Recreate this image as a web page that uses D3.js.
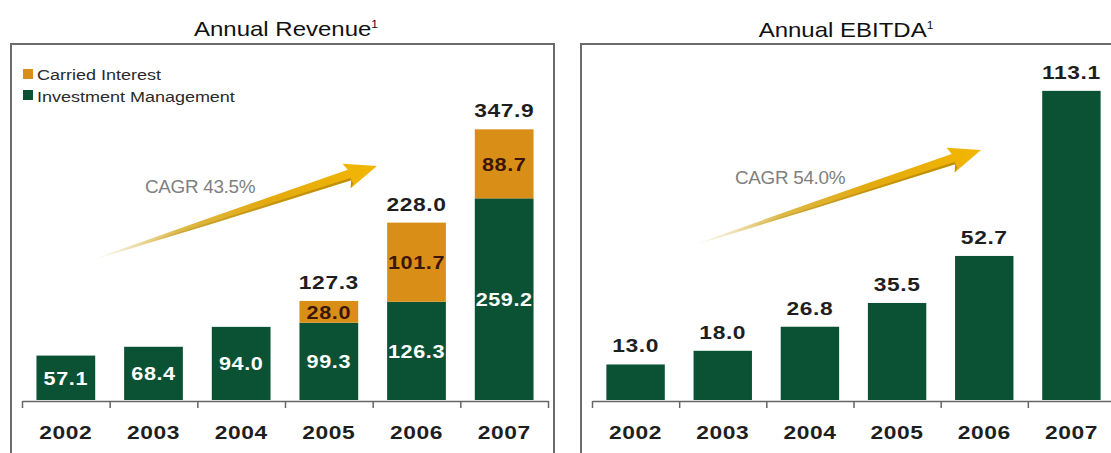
<!DOCTYPE html>
<html>
<head>
<meta charset="utf-8">
<script src="https://cdn.jsdelivr.net/npm/d3@7"></script>
<style>
  html, body { margin: 0; padding: 0; background: #fff; }
  svg { display: block; }
  text { font-family: "Liberation Sans", Arial, sans-serif; }
</style>
</head>
<body>
<svg id="chart" width="1111" height="453"></svg>
<script>
// ---- data ----
const years = ["2002", "2003", "2004", "2005", "2006", "2007"];
const investmentMgmt = [57.1, 68.4, 94.0, 99.3, 126.3, 259.2];
const carriedInterest = [0, 0, 0, 28.0, 101.7, 88.7];
const revenueTotals = [57.1, 68.4, 94.0, 127.3, 228.0, 347.9];
const ebitda = [13.0, 18.0, 26.8, 35.5, 52.7, 113.1];
const seriesNames = ["Investment Management", "Carried Interest"];
const legendOrder = ["Carried Interest", "Investment Management"];
const cagrRevenue = "CAGR 43.5%";
const cagrEbitda = "CAGR 54.0%";

// ---- style ----
const GREEN = "#0b5234";
const ORANGE = "#d98f17";
const SX = 1.2; // horizontal text stretch
const svg = d3.select("#chart");
const colorOf = d3.scaleOrdinal().domain(seriesNames).range([GREEN, ORANGE]);

function stretchedText(g, x, y, str, o = {}) {
  return g.append("text")
    .attr("transform", `translate(${x},${y}) scale(${o.sx || SX},1)`)
    .attr("text-anchor", o.anchor || "start")
    .attr("font-size", o.size || 19)
    .attr("font-weight", o.weight || "normal")
    .attr("letter-spacing", o.ls || 0)
    .attr("fill", o.fill || "#1a1a1a")
    .text(str);
}

function title(g, cx, y, main) {
  const t = g.append("text")
    .attr("transform", `translate(${cx},${y}) scale(${SX},1)`)
    .attr("text-anchor", "middle")
    .attr("font-size", 20)
    .attr("fill", "#111");
  t.append("tspan").text(main);
  t.append("tspan").attr("font-size", 10).attr("dy", -8).text("1");
}

const defs = svg.append("defs");

// gold growth arrow from tail (x0,y0) to tip (x1,y1), built along a local x axis
function growthArrow(id, x0, y0, x1, y1) {
  const L = Math.hypot(x1 - x0, y1 - y0);
  const ang = Math.atan2(y1 - y0, x1 - x0) * 180 / Math.PI;
  const grad = defs.append("linearGradient")
    .attr("id", id)
    .attr("gradientUnits", "userSpaceOnUse")
    .attr("x1", 0).attr("y1", 0).attr("x2", L).attr("y2", 0);
  [[0, "#ffffff"], [0.1, "#f1e7c4"], [0.3, "#dcb948"], [0.6, "#e3aa10"], [1, "#f2b600"]]
    .forEach(([o, c]) => grad.append("stop").attr("offset", o).attr("stop-color", c));
  const shade = defs.append("linearGradient")
    .attr("id", id + "-edge")
    .attr("gradientUnits", "userSpaceOnUse")
    .attr("x1", 0).attr("y1", 0).attr("x2", L).attr("y2", 0);
  [[0, "#ffffff", 0], [0.25, "#b08a20", 0.4], [1, "#9a6e00", 0.6]]
    .forEach(([o, c, a]) => shade.append("stop").attr("offset", o).attr("stop-color", c).attr("stop-opacity", a));

  const headLen = 32, neck = L - headLen + 3;
  const body = [
    [0, -0.5], [neck * 0.45, -3.2], [neck, -5.5],
    [L - headLen, -13], [L, 0], [L - headLen, 13],
    [neck, 5.5], [neck * 0.45, 3.2], [0, 0.5]
  ];
  const g = svg.append("g").attr("transform", `translate(${x0},${y0}) rotate(${ang})`);
  g.append("path").attr("d", d3.line()(body) + "Z").attr("fill", `url(#${id})`);
  // darker lower edge for depth
  const edge = [[L * 0.15, 0.4], [neck * 0.45, 3.2], [neck, 5.5], [L - headLen, 13], [L - headLen + 4, 9.5], [neck, 3], [neck * 0.45, 1.4]];
  g.append("path").attr("d", d3.line()(edge) + "Z").attr("fill", `url(#${id}-edge)`);
}

// ================= Annual Revenue =================
const left = svg.append("g");
left.append("path")
  .attr("d", "M11,470 V44 H554 V470")
  .attr("fill", "none").attr("stroke", "#6b6b6b").attr("stroke-width", 2);
title(left, 286, 36, "Annual Revenue");

const xL = d3.scaleBand().domain(years).range([22, 548]).paddingInner(0.33).paddingOuter(0.165);
const yL = d3.scaleLinear().domain([0, 400]).range([400, 88.8]);

const rows = years.map((y, i) => ({ year: y, "Investment Management": investmentMgmt[i], "Carried Interest": carriedInterest[i] }));
const stacked = d3.stack().keys(seriesNames)(rows);

left.append("g").selectAll("g").data(stacked).join("g")
  .attr("fill", d => colorOf(d.key))
  .selectAll("rect").data(d => d.filter(s => s[1] - s[0] > 0)).join("rect")
  .attr("x", d => xL(d.data.year))
  .attr("width", xL.bandwidth())
  .attr("y", d => yL(d[1]))
  .attr("height", d => yL(d[0]) - yL(d[1]));

// segment labels
stacked.forEach(layer => {
  layer.filter(s => s[1] - s[0] > 0).forEach(s => {
    const cy = (yL(s[0]) + yL(s[1])) / 2 + 7;
    const isCI = layer.key === "Carried Interest";
    stretchedText(left, xL(s.data.year) + xL.bandwidth() / 2, cy, (s[1] - s[0]).toFixed(1),
      { anchor: "middle", weight: "bold", size: 18, fill: isCI ? "#3b1608" : "#ffffff", ls: 0.5 });
  });
});

// totals above stacked bars
years.forEach((y, i) => {
  if (carriedInterest[i] > 0) {
    stretchedText(left, xL(y) + xL.bandwidth() / 2, yL(revenueTotals[i]) - 12, revenueTotals[i].toFixed(1),
      { anchor: "middle", weight: "bold", size: 19, fill: "#1e1e1e", ls: 0.5 });
  }
});

// axis: boundary ticks + category labels
const edgeL = d3.scaleLinear().domain([0, years.length]).range([22, 548]);
const axL = left.append("g").attr("transform", "translate(0,401)")
  .call(d3.axisBottom(edgeL).tickValues(d3.range(years.length + 1)).tickSize(7).tickSizeOuter(0).tickFormat(""));
axL.selectAll("path,line").attr("stroke", "#666").attr("stroke-width", 1.5);
const labL = left.append("g").attr("transform", "translate(0,401)")
  .call(d3.axisBottom(xL).tickSize(0).tickPadding(0));
labL.select(".domain").remove();
labL.selectAll("text")
  .attr("y", 38).attr("dy", 0)
  .attr("font-size", 19).attr("font-weight", "bold").attr("fill", "#1e1e1e")
  .attr("font-family", "Liberation Sans, Arial, sans-serif")
  .attr("letter-spacing", 0.5)
  .attr("transform", `scale(${SX},1)`);

// legend
legendOrder.forEach((name, i) => {
  left.append("rect").attr("x", 23).attr("y", 69 + i * 21).attr("width", 10).attr("height", 10).attr("fill", colorOf(name));
  stretchedText(left, 37, 80 + i * 22, name, { size: 15, fill: "#2a2a2a" });
});

growthArrow("goldL", 95, 259, 377, 166);
stretchedText(left, 145, 193, cagrRevenue, { size: 18, sx: 1.05, fill: "#808080", ls: -0.3 });

// ================= Annual EBITDA =================
const right = svg.append("g");
right.append("path")
  .attr("d", "M581,470 V44 H1130")
  .attr("fill", "none").attr("stroke", "#6b6b6b").attr("stroke-width", 2);
title(right, 846, 37, "Annual EBITDA");

const xR = d3.scaleBand().domain(years).range([592, 1115]).paddingInner(0.33).paddingOuter(0.165);
const yR = d3.scaleLinear().domain([0, 120]).range([400, 72]);

right.append("g").selectAll("rect").data(ebitda).join("rect")
  .attr("fill", GREEN)
  .attr("x", (d, i) => xR(years[i]))
  .attr("width", xR.bandwidth())
  .attr("y", d => yR(d))
  .attr("height", d => yR(0) - yR(d));

ebitda.forEach((v, i) => {
  stretchedText(right, xR(years[i]) + xR.bandwidth() / 2, yR(v) - 12, v.toFixed(1),
    { anchor: "middle", weight: "bold", size: 19, fill: "#1e1e1e", ls: 0.5 });
});

const edgeR = d3.scaleLinear().domain([0, years.length]).range([592, 1115]);
const axR = right.append("g").attr("transform", "translate(0,401)")
  .call(d3.axisBottom(edgeR).tickValues(d3.range(years.length + 1)).tickSize(7).tickSizeOuter(0).tickFormat(""));
axR.selectAll("path,line").attr("stroke", "#666").attr("stroke-width", 1.5);
const labR = right.append("g").attr("transform", "translate(0,401)")
  .call(d3.axisBottom(xR).tickSize(0).tickPadding(0));
labR.select(".domain").remove();
labR.selectAll("text")
  .attr("y", 38).attr("dy", 0)
  .attr("font-size", 19).attr("font-weight", "bold").attr("fill", "#1e1e1e")
  .attr("font-family", "Liberation Sans, Arial, sans-serif")
  .attr("letter-spacing", 0.5)
  .attr("transform", `scale(${SX},1)`);

growthArrow("goldR", 697, 244, 981, 150);
stretchedText(right, 735, 184, cagrEbitda, { size: 18, sx: 1.05, fill: "#808080", ls: -0.3 });
</script>
</body>
</html>
